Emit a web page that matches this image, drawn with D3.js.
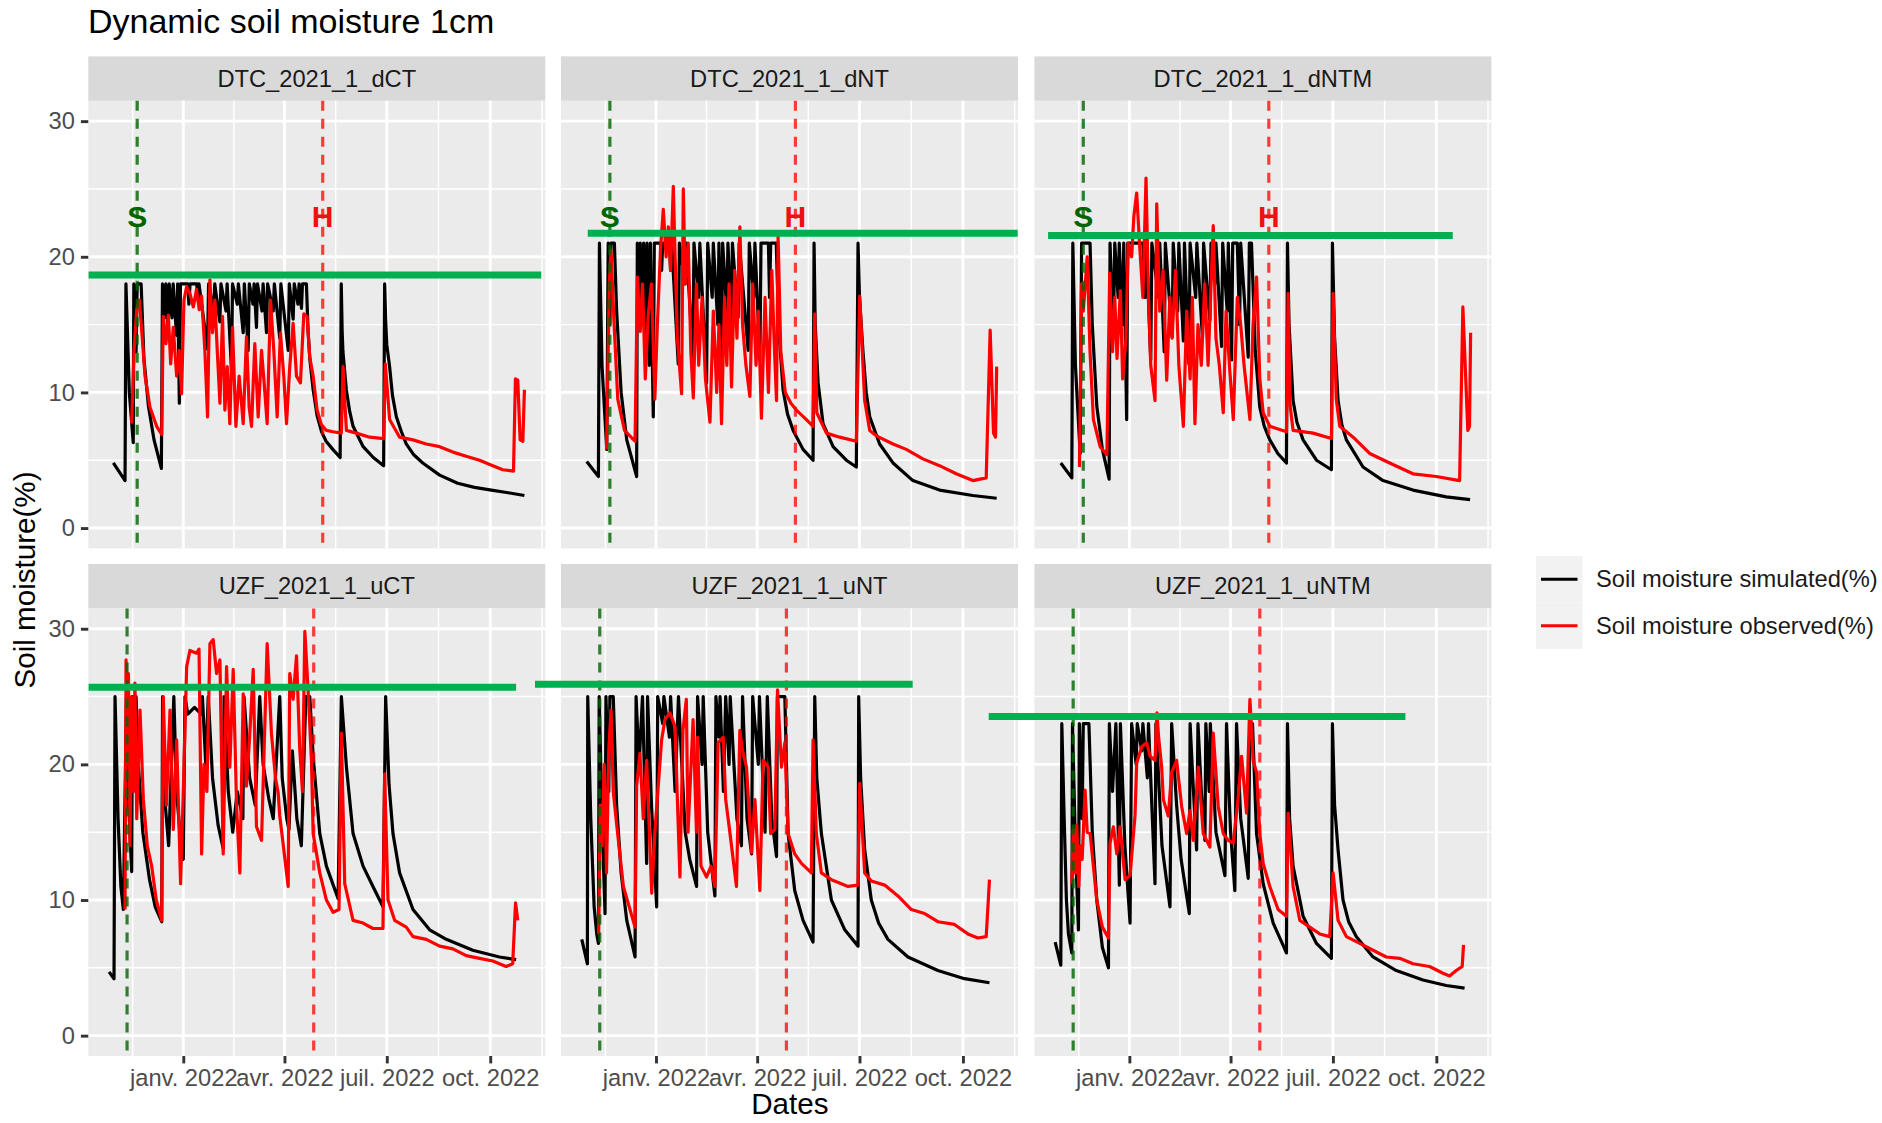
<!DOCTYPE html>
<html>
<head>
<meta charset="utf-8">
<script src="https://d3js.org/d3.v7.min.js"></script>
<style>
  body { margin: 0; background: #fff; }
  text { font-family: "Liberation Sans", Arial, Helvetica, sans-serif; }
</style>
</head>
<body>
<div id="chart"></div>
<script>
var svgWidth = 1882;
var svgHeight = 1123;

// all series are [day, soil moisture %], day counted from 27 Oct 2021
var startDate = Date.UTC(2021, 9, 27);

var panelNames = ["DTC_2021_1_dCT", "DTC_2021_1_dNT", "DTC_2021_1_dNTM",
  "UZF_2021_1_uCT", "UZF_2021_1_uNT", "UZF_2021_1_uNTM"];
var seriesNames = ["Soil moisture simulated(%)", "Soil moisture observed(%)"];
var seriesColors = ["#000000", "#ff0000"];

var tickDates = ["2022-01-01", "2022-04-01", "2022-07-01", "2022-10-01"];
var tickLabels = ["janv. 2022", "avr. 2022", "juil. 2022", "oct. 2022"];
var yTicks = [0, 10, 20, 30];
var yMinor = [5, 15, 25];

// sowing (S) and harvest (H) dates, one per row (DTC, UZF)
var sowDates = ["2021-11-21", "2021-11-12"];
var harvestDates = ["2022-05-05", "2022-04-27"];
var markLabels = ["S", "H"];
var markLabelLevel = 23;

// green reference lines drawn over each panel
var greenLevels = [18.66, 21.73, 21.56, 25.69, 25.91, 23.53];
var greenFrom = [-18.2, 5.3, -6.3, -18.2, -41.6, -59.1];
var greenTo = [384.4, 387.7, 353.6, 362, 294.3, 311.5];

var simDCT = [[3.8,4.8],[14.2,3.5],[15,18],[18,10],[21.5,6.3],[22,18],[24,13],[25,18],[28.5,18],[31,12.5],[35,9],[40,6.5],[46.5,4.4],[47.5,18],[49.5,15.5],[50.5,18],[52.5,14.5],[53.5,18],[56,15.5],[57,18],[60,14.2],[61,18],[62.5,9.2],[63.5,18],[70,18],[71,16.5],[72,18],[78,18],[79,16.8],[80,18],[87.5,13.2],[88.5,18],[93,16],[94,18],[98.5,15.2],[99.5,18],[104,16],[105,18],[108.9,11.6],[109.8,18],[114,16.5],[115,18],[119.3,14.4],[120.3,18],[123.7,13.1],[124.7,18],[128,16.5],[129,18],[131.1,14.8],[132,18],[136,16],[137,18],[140,14.4],[141,18],[146,16],[147,18],[151.8,14],[152.8,18],[159.3,13.1],[160.3,18],[163.7,15.4],[164.7,18],[168,16.5],[169,18],[171.1,16.2],[172,18],[175.5,18],[177,14.5],[178.5,12.5],[181.5,10.2],[185,8.3],[189,7.1],[193,6.4],[199,5.8],[205.5,5.2],[206.5,18],[207.3,14.5],[208,13],[211,10.2],[214,8.6],[217,7.5],[226,6.0],[235,5.2],[244.2,4.6],[245.1,18],[246,15.3],[247,13.5],[249.5,11.9],[252,9.8],[255.5,8.2],[260,7.1],[264.3,6.2],[271,5.4],[279,4.8],[294,3.9],[310,3.3],[325,3.0],[340,2.8],[355,2.6],[369.4,2.4]];
var obsDCT = [[20.1,7.7],[22.2,13.1],[24.6,16.1],[26.9,16.8],[29,14.6],[32,11.2],[36.4,8.9],[42.3,7.5],[46.8,6.9],[48.2,15.6],[50.6,13.6],[52.7,15.7],[54.8,12.1],[57.1,14.8],[60.1,11.2],[62.4,13.1],[64.5,9.9],[66.6,16.8],[69,17.8],[71.9,17.3],[74.9,16.3],[77.8,17.6],[80.2,16.1],[82.3,17.1],[85.2,13.1],[87.6,8.2],[89.7,18.3],[92,14.4],[94.1,16.8],[96.2,13.1],[98.6,9.2],[100.9,15.6],[103,8.7],[105.1,11.9],[107.4,7.7],[109.8,14.8],[112.8,7.5],[115.7,11.2],[119.3,7.7],[122.2,14.1],[124.6,8.9],[126.7,7.5],[129.6,13.6],[132.6,8.2],[135.6,13.1],[137.9,10.7],[140.6,7.7],[143.6,16.8],[146.5,13.1],[149.5,8.2],[152.4,14.4],[155.4,11.2],[157.8,7.7],[160.7,11.9],[163.7,15.1],[166.7,11.2],[170.2,10.7],[173.2,15.8],[176.1,15.6],[178.5,12.6],[181.5,11.2],[185,8.7],[188.9,7.6],[193.3,7.2],[199.2,7.1],[206.6,7.0],[208.1,11.9],[209.6,9.4],[211.1,7.2],[219.9,7.0],[231.8,6.7],[244.2,6.6],[245.7,12.1],[249.5,8.0],[258.4,6.7],[270.3,6.5],[282.1,6.2],[294,6.0],[305.8,5.6],[317.6,5.3],[329.5,5.0],[341.3,4.6],[350.2,4.3],[359.7,4.2],[361.4,11.0],[363.5,10.9],[365.6,6.5],[368,6.4],[369.4,10.2]];

var simDNT = [[4.4,4.9],[14.8,3.8],[15.7,21],[18,12],[22.2,5.8],[23.5,21],[25,15],[26,21],[29,21],[31,16],[35,10],[40,6.5],[48.8,3.8],[49.4,21],[51,16],[52,21],[54,15],[55,21],[57,14],[58,21],[60,12],[61,21],[63.6,8.2],[64.5,21],[70,21],[71,19],[72,21],[78,21],[79,19],[80,21],[85.8,12.1],[86.8,21],[92,18],[93,21],[98.8,12.4],[99.8,21],[104,17],[105,21],[111,10.7],[112,21],[116,17],[117,21],[121,15],[122,21],[124.3,12.4],[125.3,21],[129,16],[130,21],[133,15],[134,21],[139,15.5],[140,21],[148,13.1],[149,21],[153,17],[154,21],[158.4,12.4],[159.4,21],[166,21],[167,17],[168,21],[173,21],[175,15],[179,10.2],[183,8.4],[188,7.2],[196.8,5.8],[205.7,5.0],[206.6,21],[207.6,15],[210.2,10.7],[214.6,7.7],[223.5,6.0],[235.3,5.0],[244.2,4.5],[245.7,21],[247,17],[250.1,13],[253,10],[256.1,8.2],[264.9,6.2],[276.8,4.8],[294.5,3.5],[318.2,2.8],[347.8,2.4],[369,2.2]];
var obsDNT = [[22,5.8],[24.5,18],[26,20.5],[28.5,15.5],[32,9.5],[38,7.2],[47.4,6.4],[49.5,18.5],[52,14.5],[54,18],[56.5,11],[59,15.6],[62,18],[65,9.5],[67,14.5],[70,20.5],[72.5,23.5],[75,20],[77,22.2],[79,19],[81.4,25.2],[83,20],[85,14],[88.8,9.9],[90.3,25],[92,18],[94.7,21],[97,13],[99.2,9.6],[102,18],[104,12],[107,17],[110,11],[114,7.8],[117,16],[120,10],[122,15],[124.3,7.7],[127,17],[129,12],[131,18],[133.2,10.4],[136,19],[138,14],[140.6,22.2],[143,15],[146,12],[149.5,9.7],[152,18],[155,12],[157,16],[159.8,8.1],[163,17],[166,10],[169,19],[171,14],[173.2,9.4],[174.6,21.5],[177,13],[181,10],[186,9.2],[190.9,8.7],[199.8,8],[205.7,7.5],[207.2,15.8],[209,8.5],[217.6,7],[229.4,6.7],[244.2,6.4],[247.2,17.1],[251.6,9.4],[256.1,7.2],[262,6.8],[276.8,6.2],[288.6,5.8],[303.4,5.1],[318.2,4.6],[333,4],[347.8,3.5],[359.7,3.7],[363.2,14.6],[366.2,7],[368,6.7],[369,11.9]];

var simDNTM = [[5,4.8],[14.8,3.7],[15.7,21],[18,12],[22.2,5.5],[23.5,21],[31,21],[33,15],[37,9],[42,5.8],[48,3.6],[48.8,21],[50.5,17],[51.8,14.6],[53,21],[56,17],[57,21],[60,15],[61,21],[63.6,8],[64.5,21],[78,21],[80,17],[81,21],[85,12.4],[86,21],[92,17],[93,21],[97,13],[98,21],[104,14.1],[105,21],[109,16],[110,21],[114,13.8],[115,21],[119,12.1],[120,21],[125,17],[126,21],[131,14],[132,21],[137.6,15.3],[138.6,21],[142,18],[143,21],[148,13.4],[149,21],[153,16],[154,21],[156.9,12.4],[157.9,21],[162,21],[164,15],[165,21],[171.7,12.6],[172.7,21],[174.6,21],[178,13],[182,8.9],[186,7.5],[190.9,6.5],[198,5.5],[205.7,4.8],[206.6,21],[208,15],[211.6,9.4],[215,7.8],[220.5,6.5],[232.4,5],[245.7,4.3],[246.6,21],[248.5,14],[251.6,9.4],[255,7.6],[259,6.5],[273.8,4.5],[291.6,3.5],[318.2,2.8],[347.8,2.3],[369,2.1]];
var obsDNTM = [[21.6,4.5],[23.5,18],[25,16],[28.5,20],[31,13],[34,8],[40,6],[46,5.4],[48.5,18.8],[51,13],[53,17],[55,12.5],[58,17.5],[60,11],[63,14],[65,21],[68,20],[70,23],[72.5,24.7],[75,21],[78,17],[80.8,25.8],[83,17],[85,12],[88.8,9.4],[90.3,23.9],[93,16],[96,19],[99.2,10.9],[102,17],[104,14],[107,19],[110,12],[114,7.5],[117,16],[120,11],[122,17],[124.3,7.7],[127,15],[130,12],[133,18],[136,12],[140.6,22.3],[143,14],[146,12],[149.5,8.5],[152,16],[155,12],[158.4,8],[162,17],[165,15],[168,12],[173.2,8],[176,15],[179.1,18.5],[182,11],[185,8.5],[190.9,7.5],[205.7,7.1],[207.2,17.3],[209,9],[211.6,7.2],[229.4,7],[245.7,6.6],[247.2,17.3],[250,9.5],[253.1,7.5],[265,6.7],[279.7,5.5],[297.5,4.8],[318.2,4],[339,3.8],[359.7,3.5],[362.6,16.3],[367,7.2],[368.5,7.5],[369.5,14.4]];

var simUCT = [[0,4.7],[4.4,4.2],[5.3,25],[8,16],[10.5,11],[12.7,9.3],[15.5,25],[17.5,17],[20.1,12.1],[20.8,25],[24,25],[26,20],[30,15],[36,11.5],[41,9.5],[46.8,8.4],[47.6,25],[50,17],[53,14],[57.6,25],[60,18],[63,15],[66,13],[67.5,25],[70,23.7],[76,24.2],[82,23.7],[83,25],[86,20],[88.2,25],[92,19],[97,15.5],[101.5,13.8],[102.3,25],[106,18],[110,15],[114,18],[119,16],[120,25],[125,19],[130,17],[134,25],[137,20],[142,17.5],[146,16],[151.8,25],[154,19],[158,16],[160,15.2],[163,21],[167,16],[171,14],[175,25],[178.5,25],[181.5,20.6],[187.4,14.9],[193.3,12.5],[203.7,10.1],[206.6,25],[211.1,19.8],[217,14.9],[225.9,12.5],[234.7,11],[243.6,9.5],[246,25],[249,18.5],[252.5,14.9],[258.4,12],[270.3,9.3],[285.1,7.8],[299.9,7.1],[323.5,6.3],[347.2,5.8],[362,5.6]];
var obsUCT = [[14.2,9.3],[15.1,27.7],[16,20],[17.2,26.7],[18.6,14],[20,25],[21.6,18],[23,26],[24.6,16],[27.5,24],[30.5,17.4],[34,14],[37.9,12.5],[42,10],[46.8,8.5],[48.2,25],[51,17],[54.2,24],[57.1,15.2],[60.1,21.8],[63.6,11.2],[66,18],[69,27.2],[71.9,28.4],[77.8,28.2],[80,28.5],[82.3,13.4],[84.4,20],[87,18],[89.7,28.9],[92.6,29.2],[95.6,26.7],[98.6,27.7],[101.5,13.4],[104.5,27.2],[107.4,19.8],[110.4,27],[113.4,16.9],[116.3,12],[119.3,25.2],[122.2,18.4],[125,22],[128.2,27],[131.1,15.4],[135.6,14.4],[140.6,28.9],[144.4,22.3],[148,19],[150.4,17.9],[151.8,16.2],[155,14],[159.3,11],[160.7,26.7],[163.7,24.8],[166.7,28],[169.6,21.1],[172,18],[174.1,29.8],[177,25.5],[180,20.3],[181.5,14.9],[187.4,12],[193.3,10],[199.2,9.1],[204.5,9.3],[206.6,22.3],[209.6,11.2],[217,8.5],[225.9,8.3],[234.7,7.9],[243.6,7.9],[245.1,19.3],[248.1,10],[254,8.5],[264.3,8],[270.3,7.3],[282.1,7.1],[294,6.6],[305.8,6.4],[317.6,5.9],[329.5,5.7],[341.3,5.5],[353.1,5.1],[359,5.3],[361.5,9.8],[363.5,8.5]];

var simUNT = [[0,7.1],[5,5.3],[5.3,25],[8,16],[11,9.5],[13.3,7.5],[14.8,6.8],[15.5,25],[18,16],[20.7,9],[21.5,25],[24,18],[25,25],[28,25],[31,17],[35,12],[40,8.5],[47.4,5.8],[48.3,25],[51,20],[54,25],[57.7,12.7],[58.5,25],[62,17],[66.6,9.5],[67.5,25],[72,23],[73,25],[78,22],[79,25],[83,18],[86,25],[92,15],[96,13],[102.1,11],[103,25],[107,20],[108,25],[112,15],[118.4,10.3],[119.3,25],[122,22],[123,25],[126,18],[128,25],[131,20],[132,25],[138,16],[142,14],[143,25],[147,16],[151,13.4],[152,25],[157,20],[158,25],[163,15],[165,25],[169,16],[173.2,13.2],[174,25],[180.6,25],[183.5,14.9],[189.4,10.7],[196.8,8.5],[205.7,6.9],[207.2,25],[209,19],[213.1,14.9],[222,10],[233.9,7.8],[245.7,6.6],[246.3,25],[248,19],[251.6,13.7],[257.5,10],[264,8.3],[272.3,7.1],[290.1,5.8],[316.7,4.8],[340.4,4.2],[362.6,3.9]];
var obsUNT = [[15,7.5],[16.5,17],[18,14],[20,20],[22,12],[24,21],[26,24],[28,18],[31,15.6],[37,11],[47.4,8],[48.8,18.4],[51.7,20.8],[54.7,16],[57.7,20.3],[62.2,10.5],[65,15],[71,21.8],[74,23.3],[78.4,23.8],[82.9,22.8],[87.3,11.7],[90,22.5],[93,24.8],[94.5,15],[99,23.3],[102,15],[103,22],[106,12.5],[111,11.7],[115,12.5],[118.4,11],[121.3,21.6],[125.8,22],[128,17.4],[131.7,15],[137.6,11],[140.6,22.5],[143,21],[146.5,19.8],[151,13.5],[154,17.4],[158.4,10.7],[161.3,20.3],[165.8,19.8],[168,14.9],[171.7,15.2],[174.1,25.5],[177.6,19.8],[180.6,21.6],[183.5,14.9],[189.4,13.4],[195.4,12.7],[204.2,12],[205.7,21.8],[208.6,14.9],[213.1,12],[222,11.5],[230.9,11.2],[236.8,11],[245.7,11.1],[247.2,18.6],[251.6,12],[257.5,11.4],[269.4,11.1],[281.2,10.3],[293.1,9.3],[304.9,9],[316.7,8.4],[331.5,8.2],[343.4,7.5],[352.3,7.2],[359.7,7.3],[362.6,11.5]];

var simUNTM = [[0,6.9],[5,5.2],[5.9,23],[8,16],[10,10],[11.8,7.5],[14.8,6.1],[15.4,23],[18,14],[20.7,7.8],[21.5,23],[24,16],[25,23],[30,23],[33,15],[37,10],[42,6.5],[47.4,5],[48.2,23],[51,18],[54,23],[57.1,11.1],[58,23],[62,14],[66.6,8.3],[68,23],[72,20],[73,23],[77,21],[78,23],[82,19],[83,23],[88.8,11.2],[89.6,23],[95,14],[102.1,9.5],[103.6,23],[108,17],[112,13],[119.3,9],[120,23],[123,18],[125.8,13.7],[127,23],[130,18],[133.2,14.4],[134,23],[137,18],[138,23],[143,15],[151,11.8],[152.4,23],[156,15],[159.8,10.7],[161.3,23],[165,16],[171.7,11.6],[173.2,23],[175.5,23],[179.1,14.9],[185,11.2],[193.9,8.3],[205.7,6.1],[206.6,23],[208.5,16],[211.6,12.5],[220.5,8.8],[232.4,6.8],[245.7,5.7],[246.6,23],[248.5,17],[251.6,13.7],[256,10],[261,8.4],[267.9,7.3],[282.7,5.8],[303.4,4.8],[327.1,4.1],[347.8,3.7],[364.1,3.5]];
var obsUNTM = [[14.8,11.2],[16,15.2],[18,12],[19.2,15.5],[21,11],[22.2,14],[24,13],[26.6,18.1],[28.5,15],[31.1,14.9],[37,10],[42,8],[47.4,7.2],[48.8,14.2],[51.8,15.4],[54.8,13.4],[57.7,15.4],[62.2,11.5],[66.6,11.8],[71,16.2],[72.5,20.1],[77,21.3],[81.4,21.6],[84.4,20.6],[88.8,20.3],[90.5,23.8],[92,22],[94.7,19.8],[96.2,17.4],[100.6,16.2],[103.6,19.4],[108,20.3],[112.5,16.9],[116.9,14.9],[119.9,16.6],[122.8,14.4],[127.3,19.8],[131.7,14.9],[137.6,13.9],[140.6,22.3],[145,16.9],[149.5,14.9],[153.9,14.4],[158.4,14.2],[162.8,17.6],[165.8,20.6],[170.2,16.4],[173.2,24.8],[176.1,20.3],[179.1,19.4],[182,14.9],[185,12.7],[190.9,11],[198.3,9.3],[205.7,8.8],[207.2,16.4],[211.6,11],[217.6,8.5],[226.4,8],[235.3,7.5],[244.2,7.3],[247.2,12],[251.6,8.5],[259,7.3],[270.9,6.8],[282.7,6.3],[294.5,5.8],[306.4,5.7],[318.2,5.3],[333,5.1],[344.9,4.6],[350.8,4.4],[356.7,4.8],[362,5.1],[363.2,6.7]];

var simSeries = [simDCT, simDNT, simDNTM, simUCT, simUNT, simUNTM];
var obsSeries = [obsDCT, obsDNT, obsDNTM, obsUCT, obsUNT, obsUNTM];

// layout
var colX = [88.3, 561, 1034.4];
var rowY = [100.8, 608.4];
var panelW = 457;
var panelH = 447.6;
var stripH = 44.4;
var lineW = 2.9;
var dataW = 3.2;

var parseDate = d3.utcParse("%Y-%m-%d");
function toDate(day) {
  return new Date(startDate + day * 864e5);
}

var svg = d3.select("#chart")
  .append("svg")
  .attr("width", svgWidth)
  .attr("height", svgHeight);

// shared scales, 5% expansion like ggplot
var allDays = d3.merge(simSeries.concat(obsSeries)).map(d => d[0]);
var dayExt = d3.extent(allDays);
var pad = (dayExt[1] - dayExt[0]) * 0.05;
var x = d3.scaleUtc()
  .domain([toDate(dayExt[0] - pad), toDate(dayExt[1] + pad)])
  .range([0, panelW]);
var y = d3.scaleLinear()
  .domain([-1.5, 31.5])
  .range([panelH, 0]);

var majorX = tickDates.map(parseDate);
var minorX = [];
var step = majorX[1] - majorX[0];
minorX.push(new Date(+majorX[0] - step / 2));
for (var i = 0; i < majorX.length - 1; i++) {
  minorX.push(new Date((+majorX[i] + +majorX[i + 1]) / 2));
}
minorX.push(new Date(+majorX[majorX.length - 1] + (majorX[3] - majorX[2]) / 2));
minorX = minorX.filter(d => x(d) >= 0 && x(d) <= panelW);

var line = d3.line()
  .x(d => x(toDate(d[0])))
  .y(d => y(d[1]));

// title
svg.append("text")
  .attr("x", 88)
  .attr("y", 33)
  .attr("font-size", 34)
  .attr("fill", "#000")
  .text("Dynamic soil moisture 1cm");

panelNames.forEach(function (name, i) {
  var row = Math.floor(i / 3);
  var col = i % 3;
  var g = svg.append("g")
    .attr("transform", `translate(${colX[col]}, ${rowY[row]})`);

  // strip
  g.append("rect")
    .attr("x", 0).attr("y", -stripH)
    .attr("width", panelW).attr("height", stripH)
    .attr("fill", "#d9d9d9");
  g.append("text")
    .attr("x", panelW / 2).attr("y", -stripH / 2)
    .attr("text-anchor", "middle")
    .attr("dominant-baseline", "central")
    .attr("font-size", 23.7)
    .attr("fill", "#1a1a1a")
    .text(name);

  // panel background and grid
  g.append("rect")
    .attr("width", panelW).attr("height", panelH)
    .attr("fill", "#ebebeb");

  g.selectAll(".minor-y").data(yMinor).enter().append("line")
    .attr("x1", 0).attr("x2", panelW)
    .attr("y1", d => y(d)).attr("y2", d => y(d))
    .attr("stroke", "#fff").attr("stroke-width", lineW / 2);
  g.selectAll(".minor-x").data(minorX).enter().append("line")
    .attr("y1", 0).attr("y2", panelH)
    .attr("x1", d => x(d)).attr("x2", d => x(d))
    .attr("stroke", "#fff").attr("stroke-width", lineW / 2);
  g.selectAll(".major-y").data(yTicks).enter().append("line")
    .attr("x1", 0).attr("x2", panelW)
    .attr("y1", d => y(d)).attr("y2", d => y(d))
    .attr("stroke", "#fff").attr("stroke-width", lineW);
  g.selectAll(".major-x").data(majorX).enter().append("line")
    .attr("y1", 0).attr("y2", panelH)
    .attr("x1", d => x(d)).attr("x2", d => x(d))
    .attr("stroke", "#fff").attr("stroke-width", lineW);

  // simulated then observed
  [simSeries[i], obsSeries[i]].forEach(function (s, k) {
    g.append("path")
      .datum(s)
      .attr("d", line)
      .attr("fill", "none")
      .attr("stroke", seriesColors[k])
      .attr("stroke-width", dataW)
      .attr("stroke-linejoin", "round");
  });

  // sowing / harvest dashed lines
  var vDates = [parseDate(sowDates[row]), parseDate(harvestDates[row])];
  var vColors = ["#006400", "#ff0000"];
  vDates.forEach(function (d, k) {
    g.append("line")
      .attr("x1", x(d)).attr("x2", x(d))
      .attr("y1", 0).attr("y2", panelH)
      .attr("stroke", vColors[k])
      .attr("stroke-opacity", k === 0 ? 0.8 : 0.75)
      .attr("stroke-width", 3.2)
      .attr("stroke-dasharray", "10,8");
    if (row === 0) {
      g.append("text")
        .attr("x", x(d)).attr("y", y(markLabelLevel))
        .attr("text-anchor", "middle")
        .attr("dominant-baseline", "central")
        .attr("font-size", 30)
        .attr("font-weight", "bold")
        .attr("fill", k === 0 ? "#006400" : "#ee1111")
        .text(markLabels[k]);
    }
  });

  // y axis on first column
  if (col === 0) {
    var yAxis = g.append("g")
      .call(d3.axisLeft(y).tickValues(yTicks).tickSize(7.4).tickPadding(6));
    yAxis.select(".domain").remove();
    yAxis.selectAll("line").attr("stroke", "#333").attr("stroke-width", lineW);
    yAxis.selectAll("text")
      .attr("font-size", 23.7)
      .attr("fill", "#4d4d4d")
      .style("font-family", "'Liberation Sans', Arial, sans-serif");
  }

  // x axis on bottom row
  if (row === 1) {
    var xAxis = g.append("g")
      .attr("transform", `translate(0, ${panelH})`)
      .call(d3.axisBottom(x).tickValues(majorX)
        .tickFormat((d, j) => tickLabels[j])
        .tickSize(7.4).tickPadding(6));
    xAxis.select(".domain").remove();
    xAxis.selectAll("line").attr("stroke", "#333").attr("stroke-width", lineW);
    xAxis.selectAll("text")
      .attr("font-size", 23.7)
      .attr("fill", "#4d4d4d")
      .style("font-family", "'Liberation Sans', Arial, sans-serif");
  }
});

// green reference lines (drawn on top, not clipped)
panelNames.forEach(function (name, i) {
  var row = Math.floor(i / 3);
  var col = i % 3;
  svg.append("line")
    .attr("transform", `translate(${colX[col]}, ${rowY[row]})`)
    .attr("x1", x(toDate(greenFrom[i])))
    .attr("x2", x(toDate(greenTo[i])))
    .attr("y1", y(greenLevels[i]))
    .attr("y2", y(greenLevels[i]))
    .attr("stroke", "#00b050")
    .attr("stroke-width", 7);
});

// axis titles
svg.append("text")
  .attr("x", (colX[0] + colX[2] + panelW) / 2)
  .attr("y", 1114)
  .attr("text-anchor", "middle")
  .attr("font-size", 29.6)
  .attr("fill", "#000")
  .text("Dates");

svg.append("text")
  .attr("transform", "translate(35, 580) rotate(-90)")
  .attr("text-anchor", "middle")
  .attr("font-size", 29.6)
  .attr("fill", "#000")
  .text("Soil moisture(%)");

// legend
var legend = svg.append("g")
  .attr("transform", "translate(1536, 556)");

seriesNames.forEach(function (s, k) {
  legend.append("rect")
    .attr("x", 0).attr("y", k * 46.5)
    .attr("width", 46.5).attr("height", 46.5)
    .attr("fill", "#f2f2f2");
  legend.append("line")
    .attr("x1", 5).attr("x2", 41.5)
    .attr("y1", k * 46.5 + 23.25).attr("y2", k * 46.5 + 23.25)
    .attr("stroke", seriesColors[k])
    .attr("stroke-width", dataW);
  legend.append("text")
    .attr("x", 60).attr("y", k * 46.5 + 23.25)
    .attr("dominant-baseline", "central")
    .attr("font-size", 23.7)
    .attr("fill", "#1a1a1a")
    .text(s);
});
</script>
</body>
</html>
